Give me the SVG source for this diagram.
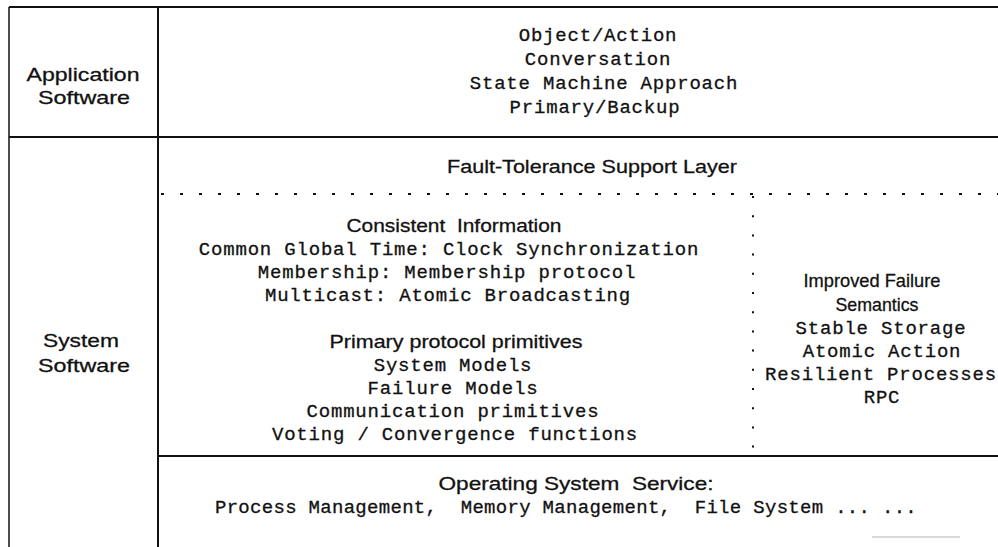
<svg xmlns="http://www.w3.org/2000/svg" width="998" height="547" viewBox="0 0 998 547">
<style>
.line{stroke:#111;stroke-width:2;fill:none}
.thin{stroke:#111;stroke-width:1.5;fill:none}
.dot{stroke:#111;stroke-width:2;fill:none}
text{white-space:pre;fill:#111;stroke:#111;stroke-width:0.3}
.sans{font-family:"Liberation Sans",Arial,sans-serif;font-size:19px;text-anchor:middle}
.mono{font-family:"Liberation Mono","Courier New",monospace;font-size:19px;letter-spacing:0.8px;text-anchor:middle}
</style>
<rect width="998" height="547" fill="#fff"/>
<g id="frame">
<line class="line" x1="9" y1="7" x2="998" y2="7"/>
<line class="thin" x1="9" y1="7" x2="9" y2="547"/>
<line class="line" x1="158" y1="7" x2="158" y2="547"/>
<line class="line" x1="9" y1="137" x2="998" y2="137"/>
<line class="dot" x1="161" y1="194" x2="998" y2="194" stroke-dasharray="3 16"/>
<line class="dot" x1="753" y1="196" x2="753" y2="450" stroke-dasharray="2 17.2"/>
<line class="line" x1="158" y1="456" x2="998" y2="456"/>
<line x1="872" y1="537" x2="960" y2="537" stroke="#ccc" stroke-width="1.5"/>
</g>
<g id="app-label">
<text class="sans" x="83" y="81" textLength="113" lengthAdjust="spacingAndGlyphs">Application</text>
<text class="sans" x="84" y="104" textLength="92" lengthAdjust="spacingAndGlyphs">Software</text>
</g>
<g id="app-content">
<text class="mono" x="598" y="41">Object/Action</text>
<text class="mono" x="598" y="65">Conversation</text>
<text class="mono" x="604" y="89">State Machine Approach</text>
<text class="mono" x="595" y="113">Primary/Backup</text>
</g>
<g id="sys-label">
<text class="sans" x="81" y="347" textLength="76" lengthAdjust="spacingAndGlyphs">System</text>
<text class="sans" x="84" y="372" textLength="92" lengthAdjust="spacingAndGlyphs">Software</text>
</g>
<g id="ft-layer">
<text class="sans" x="592" y="173" textLength="290" lengthAdjust="spacingAndGlyphs">Fault-Tolerance Support Layer</text>
</g>
<g id="consistent-info">
<text class="sans" x="454" y="232" textLength="215" lengthAdjust="spacingAndGlyphs">Consistent  Information</text>
<text class="mono" x="449" y="255">Common Global Time: Clock Synchronization</text>
<text class="mono" x="447" y="278">Membership: Membership protocol</text>
<text class="mono" x="448" y="301">Multicast: Atomic Broadcasting</text>
</g>
<g id="primitives">
<text class="sans" x="456" y="348" textLength="253" lengthAdjust="spacingAndGlyphs">Primary protocol primitives</text>
<text class="mono" x="453" y="371">System Models</text>
<text class="mono" x="453" y="394">Failure Models</text>
<text class="mono" x="453" y="417">Communication primitives</text>
<text class="mono" x="455" y="440">Voting / Convergence functions</text>
</g>
<g id="failure-semantics">
<text class="sans" x="872" y="287" textLength="137" lengthAdjust="spacingAndGlyphs">Improved Failure</text>
<text class="sans" x="877" y="311" textLength="83" lengthAdjust="spacingAndGlyphs">Semantics</text>
<text class="mono" x="881" y="334">Stable Storage</text>
<text class="mono" x="882" y="357">Atomic Action</text>
<text class="mono" x="881" y="380">Resilient Processes</text>
<text class="mono" x="882" y="403">RPC</text>
</g>
<g id="os-service">
<text class="sans" x="576" y="490" textLength="275" lengthAdjust="spacingAndGlyphs">Operating System  Service:</text>
<text class="mono" x="566" y="513" style="letter-spacing:0.3px">Process Management,  Memory Management,  File System ... ...</text>
</g>
</svg>
